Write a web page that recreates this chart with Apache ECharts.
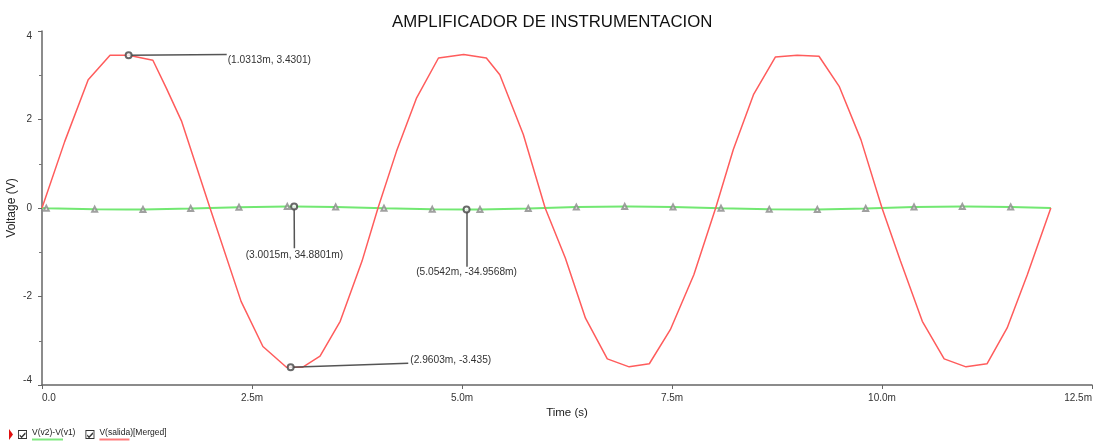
<!DOCTYPE html>
<html><head><meta charset="utf-8">
<script src="https://cdn.jsdelivr.net/npm/echarts@6/dist/echarts.min.js"></script>
<style>html,body{margin:0;padding:0;background:#fff}#c{width:1093px;height:442px}</style>
</head><body><div id="c"></div>
<script>
const chartTitle = 'AMPLIFICADOR DE INSTRUMENTACION';
const xTickLabels = ['0.0', '2.5m', '5.0m', '7.5m', '10.0m', '12.5m'];
const yTickLabels = ['-4', '-2', '0', '2', '4'];
const seriesNames = ['V(v2)-V(v1)', 'V(salida)[Merged]'];

// V(salida): time (ms), voltage (V)
const redT = [0, 0.27, 0.55, 0.81, 1.03, 1.32, 1.48, 1.66, 2.00, 2.37, 2.63, 2.91, 3.10, 3.31, 3.55, 3.81, 4.00, 4.22, 4.46, 4.72, 5.02, 5.29, 5.45, 5.73, 5.99, 6.23, 6.47, 6.73, 6.99, 7.23, 7.48, 7.76, 8.02, 8.23, 8.47, 8.73, 8.99, 9.25, 9.49, 9.75, 10.00, 10.22, 10.48, 10.74, 11.00, 11.25, 11.49, 11.73, 12.01];
const redV = [0, 1.50, 2.90, 3.45, 3.45, 3.34, 2.71, 1.97, 0, -2.11, -3.13, -3.60, -3.60, -3.35, -2.56, -1.20, 0, 1.28, 2.49, 3.39, 3.47, 3.39, 3.01, 1.66, 0, -1.13, -2.49, -3.41, -3.59, -3.52, -2.75, -1.51, 0, 1.32, 2.56, 3.41, 3.45, 3.43, 2.75, 1.54, 0, -1.20, -2.56, -3.41, -3.59, -3.52, -2.71, -1.51, 0];

// V(v2)-V(v1): time (ms), voltage (V)
const greenT = [0, 1.00, 3.0015, 5.0542, 7.00, 9.00, 11.00, 12.01];
const greenV = [0, -0.035, 0.0349, -0.035, 0.035, -0.035, 0.035, 0];
// trace marker points on V(v2)-V(v1)
const markT = [0.051, 0.627, 1.202, 1.770, 2.345, 2.920, 3.496, 4.071, 4.646, 5.214, 5.789, 6.361, 6.937, 7.512, 8.083, 8.658, 9.230, 9.806, 10.381, 10.956, 11.532];
const markV = [-0.003, -0.029, -0.033, -0.012, 0.018, 0.035, 0.025, -0.004, -0.030, -0.033, -0.011, 0.020, 0.035, 0.024, -0.006, -0.031, -0.032, -0.009, 0.021, 0.035, 0.023];

// cursors
const cursorT = [1.0313, 3.0015, 5.0542, 2.9603];
const cursorV = [3.45, 0.0349, -0.035, -3.60];
const cursorText = ['(1.0313m, 3.4301)', '(3.0015m, 34.8801m)', '(5.0542m, -34.9568m)', '(2.9603m, -3.435)'];
const leaderT = [2.199, 3.005, 5.054, 4.36];
const leaderV = [3.47, -0.91, -1.33, -3.51];

const FONT = 'Liberation Sans, Arial, sans-serif';
const redData = redT.map((t, i) => [t, redV[i]]);
const greenData = greenT.map((t, i) => [t, greenV[i]])
  .concat(markT.map((t, i) => [t, markV[i]]))
  .sort((a, b) => a[0] - b[0]);
const markData = markT.map((t, i) => [t, markV[i]]);
const cursorData = cursorT.map((t, i) => [t, cursorV[i]]);

const labelPlace = [
  { position: [1, 1], align: 'left', verticalAlign: 'top' },
  { position: [0, 2], align: 'center', verticalAlign: 'top' },
  { position: [0, 0], align: 'center', verticalAlign: 'top' },
  { position: [2, -3], align: 'left', verticalAlign: 'middle' }
];

const checkIcon = 'path://M0,0L10,0L10,10L0,10Z M1,1L1,9L9,9L9,1Z M2,5L4,7L8,2.5L8.5,4.5L4,9.2L1.8,6.8Z';

const chart = echarts.init(document.getElementById('c'), null, { renderer: 'canvas' });
chart.setOption({
  animation: false,
  backgroundColor: '#fff',
  textStyle: { fontFamily: FONT },
  title: {
    text: chartTitle, left: 387, top: 9,
    textStyle: { fontSize: 16.8, fontWeight: 'normal', color: '#111', fontFamily: FONT }
  },
  grid: { left: 42, right: 1, top: 31, bottom: 57, containLabel: false, outerBoundsMode: 'none' },
  xAxis: {
    type: 'value', min: 0, max: 12.5, interval: 2.5,
    name: 'Time (s)', nameLocation: 'middle', nameGap: 22, nameMoveOverlap: false,
    nameTextStyle: { fontSize: 11.5, color: '#222', fontFamily: FONT },
    axisLine: { show: true, onZero: false, lineStyle: { color: '#666', width: 1.5 } },
    axisTick: { show: true, length: 4, lineStyle: { color: '#666' } },
    splitLine: { show: false },
    axisLabel: {
      fontSize: 10, color: '#333', margin: 8, fontFamily: FONT,
      alignMinLabel: 'left', alignMaxLabel: 'right',
      formatter: v => xTickLabels[Math.round(v / 2.5)] ?? ''
    }
  },
  yAxis: {
    type: 'value', min: -4, max: 4, interval: 2,
    name: 'Voltage (V)', nameLocation: 'middle', nameGap: 24, nameMoveOverlap: false,
    nameTextStyle: { fontSize: 12, color: '#222', fontFamily: FONT },
    axisLine: { show: true, onZero: false, lineStyle: { color: '#666', width: 1.5 } },
    axisTick: { show: true, length: 4, lineStyle: { color: '#666' } },
    minorTick: { show: true, splitNumber: 2, length: 3, lineStyle: { color: '#777' } },
    splitLine: { show: false },
    axisLabel: {
      fontSize: 10, color: '#333', margin: 10, fontFamily: FONT,
      verticalAlignMinLabel: 'bottom', verticalAlignMaxLabel: 'top',
      formatter: v => yTickLabels[Math.round((v + 4) / 2)] ?? ''
    }
  },
  legend: {
    left: 13, top: 423, orient: 'horizontal',
    itemWidth: 9, itemHeight: 9, itemGap: 10,
    selectedMode: false,
    data: [
      { name: seriesNames[0], icon: checkIcon, itemStyle: { color: '#333', borderWidth: 0 } },
      { name: seriesNames[1], icon: checkIcon, itemStyle: { color: '#333', borderWidth: 0 } }
    ],
    formatter: name => '{t|' + name + '}\n{' + (name === seriesNames[0] ? 'g' : 'r') + '| }',
    textStyle: {
      fontSize: 8.5, color: '#222', fontFamily: FONT,
      rich: {
        t: { fontSize: 8.5, lineHeight: 10, color: '#222', fontFamily: FONT },
        g: { width: 31, height: 2, lineHeight: 4, fontSize: 1, backgroundColor: '#7ee87e' },
        r: { width: 30, height: 2, lineHeight: 4, fontSize: 1, backgroundColor: '#ff7a7a' }
      }
    }
  },
  graphic: [
    { type: 'polygon', shape: { points: [[9, 429], [13, 434.5], [9, 440]] }, style: { fill: '#e01010' } }
  ],
  series: [
    {
      name: seriesNames[0], type: 'line', data: greenData, showSymbol: false, symbol: 'none',
      lineStyle: { color: '#72e872', width: 2 }, itemStyle: { color: '#72e872' }, z: 2, silent: true
    },
    {
      name: 'markers', type: 'scatter', data: markData, symbol: 'emptyTriangle', symbolSize: 5,
      itemStyle: { color: '#888', borderWidth: 0.8 }, z: 3, silent: true
    },
    {
      name: seriesNames[1], type: 'line', data: redData, showSymbol: false, symbol: 'none',
      lineStyle: { color: '#ff5c5c', width: 1.5 }, itemStyle: { color: '#ff5c5c' }, z: 4, silent: true
    },
    {
      name: 'cursors', type: 'scatter', data: cursorData, symbol: 'emptyCircle', symbolSize: 6,
      itemStyle: { color: '#444', borderWidth: 1.3 }, z: 6, silent: true,
      markLine: {
        silent: true, symbol: ['none', 'none'], animation: false,
        lineStyle: { color: '#555', width: 1.5, type: 'solid' },
        label: { show: false },
        data: cursorT.map((t, i) => [{ coord: [t, cursorV[i]] }, { coord: [leaderT[i], leaderV[i]] }])
      },
      markPoint: {
        silent: true, animation: false,
        data: cursorT.map((t, i) => ({
          coord: [leaderT[i], leaderV[i]], symbol: 'circle', symbolSize: 0,
          label: Object.assign({
            show: true, formatter: cursorText[i], fontSize: 10.2, color: '#333', fontFamily: FONT
          }, labelPlace[i])
        }))
      }
    }
  ]
});
</script></body></html>
